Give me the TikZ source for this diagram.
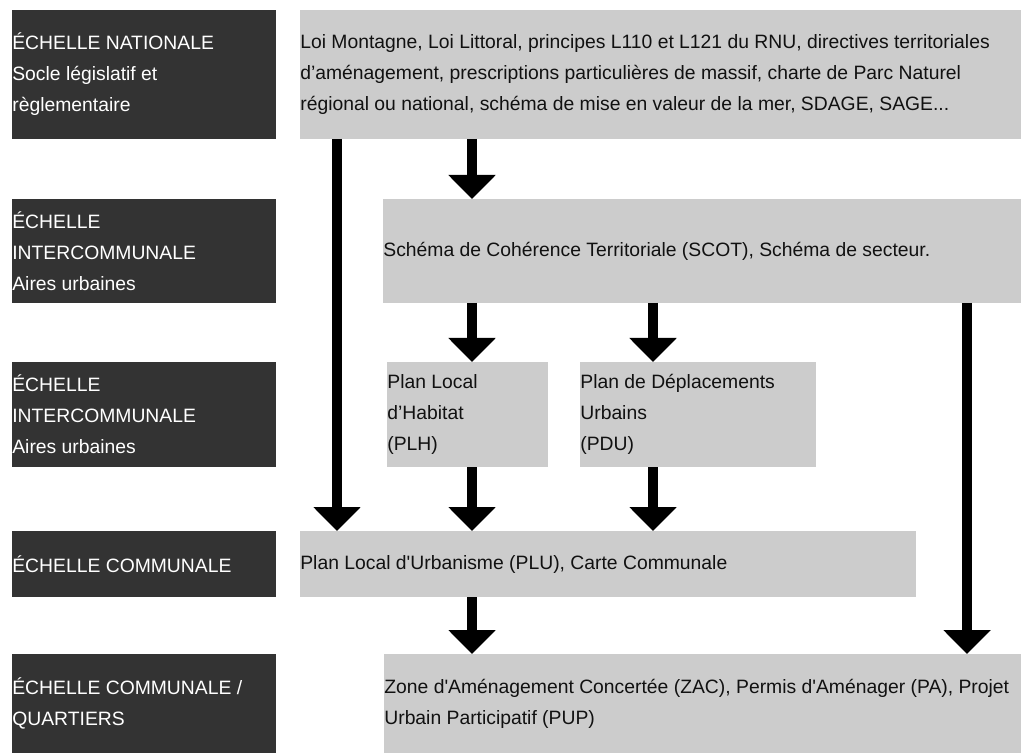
\documentclass[tikz,border=0pt]{standalone}
\usepackage{fontspec}
\setmainfont{Liberation Sans}[Ligatures=TeXOff]
\usetikzlibrary{arrows.meta}
\definecolor{scaledark}{HTML}{333333}
\definecolor{docgray}{HTML}{CCCCCC}
\definecolor{docink}{HTML}{111111}

\begin{document}
\begin{tikzpicture}[
  darkbox/.style={rectangle, anchor=north west, minimum width=5.28cm, fill=scaledark, inner sep=0pt, outer sep=0pt},
  graybox/.style={rectangle, anchor=north west, fill=docgray, inner sep=0pt, outer sep=0pt},
  scaletext/.style={font=\fontsize{11}{17.6}\selectfont, text=white, align=left, inner sep=0pt, anchor=west},
  doctext/.style={font=\fontsize{11}{17.6}\selectfont, text=docink, align=left, inner sep=0pt, anchor=west},
  bigarrow/.style={-{Triangle[width=0.92cm,length=0.48cm]}, line width=0.2cm, black}
]
\useasboundingbox (0,0) rectangle (20.44,-15.08);

% Scale boxes (left column)
\node[darkbox, minimum height=2.58cm] (nat) at (0.24,-0.20) {};
\node[darkbox, minimum height=2.08cm] (inter1) at (0.24,-3.98) {};
\node[darkbox, minimum height=2.10cm] (inter2) at (0.24,-7.24) {};
\node[darkbox, minimum height=1.32cm] (comm) at (0.24,-10.62) {};
\node[darkbox, minimum height=1.98cm] (quart) at (0.24,-13.08) {};

% Document boxes
\node[graybox, minimum width=14.42cm, minimum height=2.58cm] (lois) at (6.00,-0.20) {};
\node[graybox, minimum width=12.76cm, minimum height=2.08cm] (scot) at (7.66,-3.98) {};
\node[graybox, minimum width=3.22cm, minimum height=2.10cm] (plh) at (7.74,-7.24) {};
\node[graybox, minimum width=4.72cm, minimum height=2.10cm] (pdu) at (11.60,-7.24) {};
\node[graybox, minimum width=12.32cm, minimum height=1.32cm] (plu) at (6.00,-10.62) {};
\node[graybox, minimum width=12.74cm, minimum height=1.98cm] (zac) at (7.68,-13.08) {};

% Text
\node[scaletext] (natT) at (nat.west) {ÉCHELLE NATIONALE\\Socle législatif et\\règlementaire};
\node[scaletext] (inter1T) at (inter1.west) {ÉCHELLE\\INTERCOMMUNALE\\Aires urbaines};
\node[scaletext] (inter2T) at (inter2.west) {ÉCHELLE\\INTERCOMMUNALE\\Aires urbaines};
\node[scaletext] (commT) at (comm.west) {ÉCHELLE COMMUNALE};
\node[scaletext] (quartT) at (quart.west) {ÉCHELLE COMMUNALE /\\QUARTIERS};

\node[doctext] (loisT) at (lois.west) {Loi Montagne, Loi Littoral, principes L110 et L121 du RNU, directives territoriales\\d’aménagement, prescriptions particulières de massif, charte de Parc Naturel\\régional ou national, schéma de mise en valeur de la mer, SDAGE, SAGE...};
\node[doctext] (scotT) at (scot.west) {Schéma de Cohérence Territoriale (SCOT), Schéma de secteur.};
\node[doctext] (plhT) at (plh.west) {Plan Local\\d’Habitat\\(PLH)};
\node[doctext] (pduT) at (pdu.west) {Plan de Déplacements\\Urbains\\(PDU)};
\node[doctext] (pluT) at (plu.west) {Plan Local d'Urbanisme (PLU), Carte Communale};
\node[doctext] (zacT) at (zac.west) {Zone d'Aménagement Concertée (ZAC), Permis d'Aménager (PA), Projet\\Urbain Participatif (PUP)};

% Arrows
\coordinate (xa) at (6.74,0);
\coordinate (xb) at (9.44,0);
\coordinate (xc) at (13.06,0);
\coordinate (xd) at (19.34,0);
\draw[bigarrow] (lois.south -| xa) -- (plu.north -| xa);
\draw[bigarrow] (lois.south -| xb) -- (scot.north -| xb);
\draw[bigarrow] (scot.south -| xb) -- (plh.north -| xb);
\draw[bigarrow] (scot.south -| xc) -- (pdu.north -| xc);
\draw[bigarrow] (plh.south -| xb) -- (plu.north -| xb);
\draw[bigarrow] (pdu.south -| xc) -- (plu.north -| xc);
\draw[bigarrow] (plu.south -| xb) -- (zac.north -| xb);
\draw[bigarrow] (scot.south -| xd) -- (zac.north -| xd);
\end{tikzpicture}
\end{document}
